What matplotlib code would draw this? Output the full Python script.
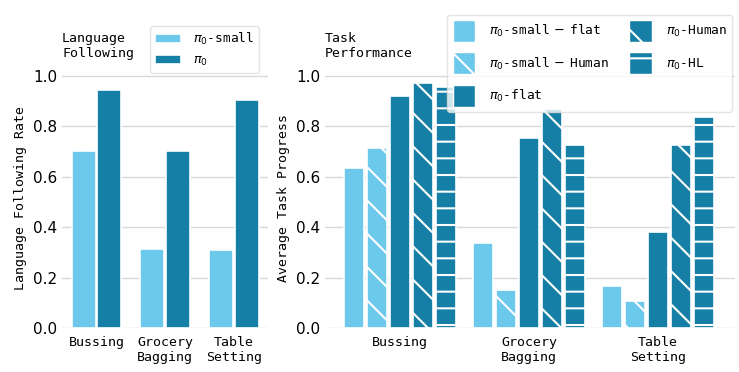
import numpy as np
import matplotlib.pyplot as plt
from matplotlib.patches import Patch

# data
tasks = ["Bussing", "Grocery\nBagging", "Table\nSetting"]

lang_small = [0.70, 0.313, 0.308]
lang_pi0 = [0.943, 0.70, 0.904]

prog_labels = [r"$\pi_0$-small$\,-\,$flat", r"$\pi_0$-small$\,-\,$Human", r"$\pi_0$-flat",
               r"$\pi_0$-Human", r"$\pi_0$-HL"]
prog_small_flat = [0.636, 0.337, 0.167]
prog_small_human = [0.712, 0.151, 0.108]
prog_flat = [0.92, 0.753, 0.381]
prog_human = [0.971, 0.868, 0.725]
prog_hl = [0.955, 0.725, 0.838]

light = "#6dc9ec"
dark = "#167fa6"
mono = "DejaVu Sans Mono"

plt.rcParams["hatch.color"] = "white"
plt.rcParams["hatch.linewidth"] = 1.5
plt.rcParams["font.family"] = ["DejaVu Sans"]

fig = plt.figure(figsize=(7.39, 3.72), dpi=100)
ax1 = fig.add_axes([0.084, 0.118, 0.279, 0.699])
ax2 = fig.add_axes([0.44, 0.118, 0.555, 0.699])

def style(ax):
    for s in ax.spines.values():
        s.set_visible(False)
    ax.set_axisbelow(True)
    ax.yaxis.grid(True, color="#d9d9d9", lw=1)
    ax.tick_params(length=0, labelsize=11)
    ax.tick_params(axis="x", pad=6)
    ax.set_ylim(0, 1.03)
    ax.set_yticks([0, 0.2, 0.4, 0.6, 0.8, 1.0])
    ax.set_xticks(range(len(tasks)))
    ax.set_xticklabels(tasks, family=mono, fontsize=9.5)

# left: language following
x = np.arange(len(tasks))
w = 0.35
ax1.bar(x - w / 2 - 0.01, lang_small, w, color=light, edgecolor="white", lw=1.2, label=r"$\pi_0$-small")
ax1.bar(x + w / 2 + 0.01, lang_pi0, w, color=dark, edgecolor="white", lw=1.2, label=r"$\pi_0$")
style(ax1)
ax1.set_xlim(-0.5, 2.5)
ax1.set_ylabel("Language Following Rate", family=mono, fontsize=9.5)
ax1.set_title("Language\nFollowing", family=mono, fontsize=9.5, loc="left", x=0.0, pad=8)
ax1.legend(loc="upper right", bbox_to_anchor=(0.3505, 0.93), bbox_transform=fig.transFigure,
           borderaxespad=0, prop={"family": mono, "size": 9.3},
           handlelength=2.0, handletextpad=0.9, labelspacing=0.5,
           framealpha=0.85, edgecolor="#dddddd")

# right: task performance
series = [prog_small_flat, prog_small_human, prog_flat, prog_human, prog_hl]
colors = [light, light, dark, dark, dark]
hatches = ["", "\\", "", "\\", "-"]
pitch = 0.178
bw = 0.15
handles = []
for i, vals in enumerate(series):
    off = (i - 2) * pitch
    ax2.bar(x + off, vals, bw, color=colors[i], edgecolor="white", lw=1.2, hatch=hatches[i])
    handles.append(Patch(facecolor=colors[i], edgecolor="white", hatch=hatches[i], label=prog_labels[i]))
style(ax2)
ax2.set_xlim(-0.58, 2.6)
ax2.set_ylabel("Average Task Progress", family=mono, fontsize=9.5)
ax2.set_title("Task\nPerformance", family=mono, fontsize=9.5, loc="left", x=0.0, pad=8)
ax2.legend(handles=handles, ncol=2, loc="upper right", bbox_to_anchor=(0.9905, 0.96),
           bbox_transform=fig.transFigure, borderaxespad=0,
           prop={"family": mono, "size": 9.3}, handlelength=1.75, handleheight=2.25,
           handletextpad=1.05, framealpha=0.8, edgecolor="#dddddd",
           columnspacing=1.6, labelspacing=0.8)

fig.savefig("out.png", dpi=100)
